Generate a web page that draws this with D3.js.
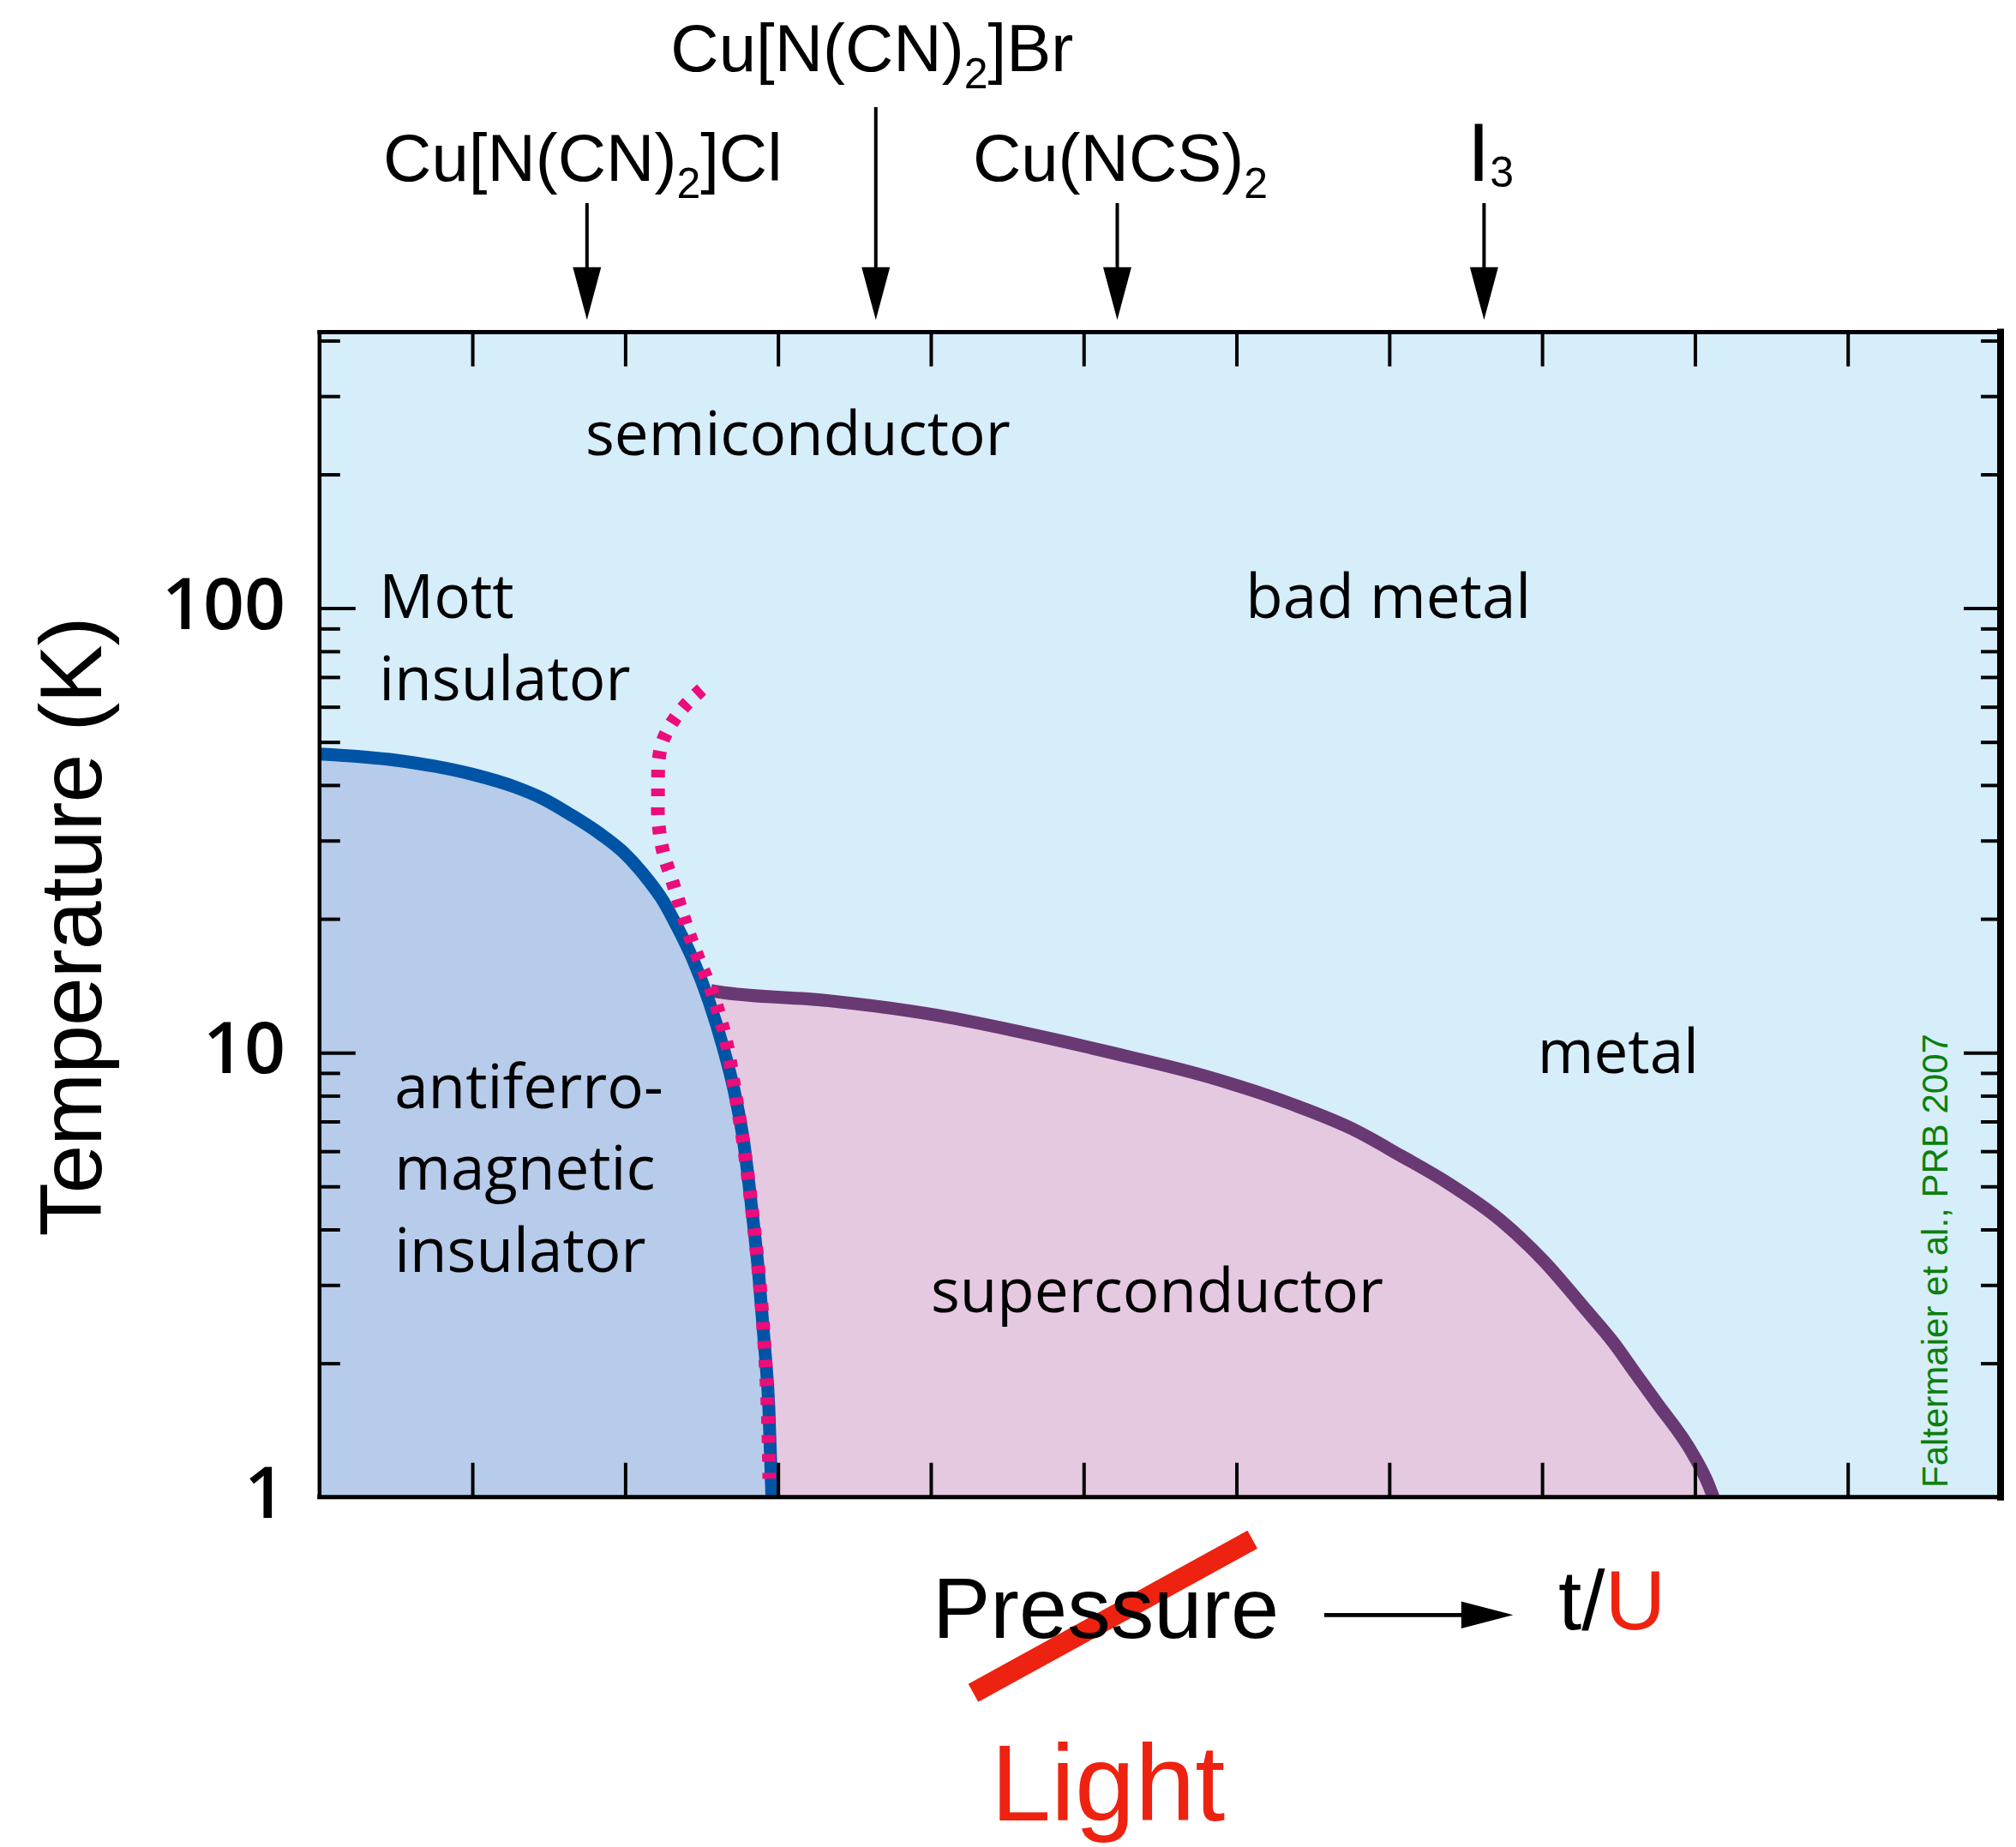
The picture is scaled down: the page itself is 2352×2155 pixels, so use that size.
<!DOCTYPE html>
<html>
<head>
<meta charset="utf-8">
<script src="https://cdn.jsdelivr.net/npm/d3@7"></script>
<style>
  html, body { margin: 0; padding: 0; background: #fff; }
  svg { display: block; }
</style>
</head>
<body>
<script>
// Phase diagram of the kappa-(BEDT-TTF)2X organic conductors:
// temperature (log scale) versus bandwidth-to-interaction ratio t/U.

// ---- data -------------------------------------------------------------
const xTickValues = [1, 2, 3, 4, 5, 6, 7, 8, 9, 10];
const yTickLabels = [1, 10, 100];

// Neel line enclosing the antiferromagnetic insulator (x in t/U units, T in K)
const afmX = [0, 0.5, 1.0, 1.28, 1.46, 1.65, 1.84, 1.99, 2.12, 2.25, 2.34, 2.44, 2.55, 2.64, 2.72, 2.775, 2.83, 2.875, 2.91, 2.94, 2.96];
const afmT = [47, 45.5, 42.3, 39.6, 37.3, 34.2, 31.0, 28.2, 25.2, 21.9, 19.2, 16.3, 13.0, 10.3, 8.0, 6.3, 4.4, 3.14, 2.23, 1.59, 1.0];

// first-order Mott transition line (drawn dashed)
const mottX = [2.50, 2.40, 2.316, 2.248, 2.22, 2.215, 2.215, 2.215, 2.231, 2.259, 2.299, 2.344, 2.388, 2.444, 2.512, 2.568, 2.624, 2.669, 2.719, 2.775, 2.831, 2.876, 2.91, 2.932, 2.943];
const mottT = [65.6, 60.8, 55.9, 50.5, 45.8, 41.5, 37.5, 34.0, 30.3, 27.4, 24.9, 22.2, 19.9, 17.5, 15.3, 13.7, 11.9, 10.3, 8.16, 6.2, 4.4, 3.14, 2.23, 1.59, 1.1];

// superconducting dome
const scX = [2.56, 2.61, 3.32, 4.06, 4.60, 5.18, 5.80, 6.37, 6.76, 7.08, 7.37, 7.73, 8.01, 8.29, 8.47, 8.61, 8.75, 8.98, 9.09, 9.12];
const scT = [13.8, 13.7, 13.1, 12.1, 11.1, 10.0, 8.85, 7.64, 6.73, 5.85, 5.12, 4.19, 3.40, 2.63, 2.22, 1.90, 1.63, 1.26, 1.064, 1.0];

// compounds marked above the diagram, and where they sit on the t/U axis
const compoundMain = ["Cu[N(CN)", "Cu[N(CN)", "Cu(NCS)", "I"];
const compoundSub  = ["2", "2", "2", "3"];
const compoundTail = ["]Cl", "]Br", "", ""];
const compoundAt   = [1.75, 3.64, 5.22, 7.62];

// phase labels and their anchor (t/U, K)
const regionText = [["semiconductor"], ["Mott", "insulator"], ["bad metal"], ["metal"], ["antiferro-", "magnetic", "insulator"], ["superconductor"]];
const regionAtX  = [1.74, 0.39, 6.06, 7.97, 0.49, 4.00];
const regionAtT  = [221, 95, 95, 9.0, 7.5, 2.61];

// ---- layout -----------------------------------------------------------
const W = 2352, H = 2155;
const x = d3.scaleLinear().domain([0, 11]).range([372.8, 2334]);
const y = d3.scaleLog().domain([1, 418]).range([1746.7, 387.5]);

const SANS = "'Liberation Sans', Arial, Helvetica, sans-serif";
const HUMAN = "'Open Sans', 'Noto Sans', sans-serif";

const svg = d3.select("body").append("svg")
  .attr("width", W).attr("height", H).attr("viewBox", `0 0 ${W} ${H}`);
svg.append("rect").attr("width", W).attr("height", H).attr("fill", "#fff");

const x0 = x.range()[0], x1 = x.range()[1];
const yTop = y.range()[1], yBot = y.range()[0];

svg.append("defs").append("clipPath").attr("id", "plot-clip")
  .append("rect").attr("x", x0).attr("y", yTop).attr("width", x1 - x0).attr("height", yBot - yTop);

const plot = svg.append("g").attr("clip-path", "url(#plot-clip)");

plot.append("rect")
  .attr("x", x0).attr("y", yTop).attr("width", x1 - x0).attr("height", yBot - yTop)
  .attr("fill", "#d6edfa");

const afm = d3.zip(afmX, afmT);
const mott = d3.zip(mottX, mottT);
const sc = d3.zip(scX, scT);

const smooth = d3.line()
  .x(d => x(d[0])).y(d => y(d[1]))
  .curve(d3.curveMonotoneX);
const freeCurve = d3.line()
  .x(d => x(d[0])).y(d => y(d[1]))
  .curve(d3.curveCatmullRom.alpha(0.5));

// superconducting region (its left part is covered by the AFM fill)
plot.append("path")
  .attr("d", smooth(sc) + `L${x(2.45)},${y(1)}L${x(2.45)},${y(sc[0][1])}Z`)
  .attr("fill", "#e5c9e1");

// antiferromagnetic insulator region
plot.append("path")
  .attr("d", smooth(afm) + `L${x(0)},${y(1)}Z`)
  .attr("fill", "#b7ccea");

plot.append("path").attr("d", smooth(sc))
  .attr("fill", "none").attr("stroke", "#693973").attr("stroke-width", 15);

plot.append("path").attr("d", smooth(afm))
  .attr("fill", "none").attr("stroke", "#0054a6").attr("stroke-width", 15);

plot.append("path").attr("d", freeCurve(mott))
  .attr("fill", "none").attr("stroke", "#ec0c7a").attr("stroke-width", 16)
  .attr("stroke-dasharray", "9 13");

// phase labels
regionText.forEach((lines, i) => {
  const t = svg.append("text")
    .attr("x", x(regionAtX[i])).attr("y", y(regionAtT[i]))
    .attr("font-family", HUMAN).attr("font-size", 71).attr("fill", "#000");
  lines.forEach((s, k) => {
    t.append("tspan").attr("x", x(regionAtX[i])).attr("dy", k === 0 ? 0 : 95.5).text(s);
  });
});

// credit
svg.append("text")
  .attr("transform", `translate(2272,1736) rotate(-90)`)
  .attr("font-family", SANS).attr("font-size", 42).attr("fill", "#0b800b")
  .text("Faltermaier et al., PRB 2007");

// ---- axes -------------------------------------------------------------
const tickStyle = g => {
  g.select(".domain").remove();
  g.selectAll(".tick line").attr("stroke", "#000").attr("stroke-width", 4);
};

svg.append("g").attr("transform", `translate(0,${yBot})`)
  .call(d3.axisBottom(x).tickValues(xTickValues).tickSize(-40).tickFormat(""))
  .call(tickStyle);
svg.append("g").attr("transform", `translate(0,${yTop})`)
  .call(d3.axisTop(x).tickValues(xTickValues).tickSize(-40).tickFormat(""))
  .call(tickStyle);

const logTicks = y.ticks();
const majorT = logTicks.filter(v => Math.abs(Math.log10(v) - Math.round(Math.log10(v))) < 1e-9 && v > 1);
const minorT = logTicks.filter(v => !majorT.includes(v) && v > 1);

svg.append("g").attr("transform", `translate(${x0},0)`)
  .call(d3.axisLeft(y).tickValues(minorT).tickSize(-24).tickFormat(""))
  .call(tickStyle);
svg.append("g").attr("transform", `translate(${x0},0)`)
  .call(d3.axisLeft(y).tickValues(majorT).tickSize(-42).tickFormat(""))
  .call(tickStyle);
svg.append("g").attr("transform", `translate(${x1},0)`)
  .call(d3.axisRight(y).tickValues(minorT).tickSize(-23).tickFormat(""))
  .call(tickStyle);
svg.append("g").attr("transform", `translate(${x1},0)`)
  .call(d3.axisRight(y).tickValues(majorT).tickSize(-43).tickFormat(""))
  .call(tickStyle);

svg.selectAll(".ylab").data(yTickLabels).join("text")
  .attr("class", "ylab")
  .attr("x", 333).attr("y", d => y(d) + 24)
  .attr("text-anchor", "end")
  .attr("font-family", HUMAN).attr("font-weight", 600).attr("font-size", 84)
  .text(d => d);

// frame
const frame = svg.append("g").attr("stroke", "#000").attr("stroke-linecap", "square");
frame.append("line").attr("x1", x0).attr("x2", x1).attr("y1", yTop).attr("y2", yTop).attr("stroke-width", 5);
frame.append("line").attr("x1", x0).attr("x2", x1).attr("y1", yBot).attr("y2", yBot).attr("stroke-width", 5);
frame.append("line").attr("x1", x0).attr("x2", x0).attr("y1", yTop).attr("y2", yBot).attr("stroke-width", 4.5);
frame.append("line").attr("x1", x1).attr("x2", x1).attr("y1", yTop).attr("y2", yBot).attr("stroke-width", 8);

svg.append("text")
  .attr("transform", `translate(118,1081.5) rotate(-90)`)
  .attr("text-anchor", "middle")
  .attr("font-family", SANS).attr("font-size", 102).attr("letter-spacing", -1)
  .text("Temperature (K)");

// ---- compound markers -------------------------------------------------
const arrowTop = [237, 125, 237, 237];
const labelBase = [210.7, 83.3, 210.7, 210.7];
const labelShift = [-5, -4.5, 3.5, 7.5];
const headBase = 311.7, headTip = 373.3, headHalf = 16.5;

compoundAt.forEach((v, i) => {
  const ax = x(v);
  svg.append("line")
    .attr("x1", ax).attr("x2", ax).attr("y1", arrowTop[i]).attr("y2", headBase + 2)
    .attr("stroke", "#000").attr("stroke-width", 4);
  svg.append("path")
    .attr("d", `M${ax - headHalf},${headBase}L${ax + headHalf},${headBase}L${ax},${headTip}Z`)
    .attr("fill", "#000");

  const isIodide = compoundMain[i] === "I";
  const big = isIodide ? 96 : 78;
  const t = svg.append("text")
    .attr("x", ax + labelShift[i]).attr("y", labelBase[i])
    .attr("text-anchor", "middle")
    .attr("font-family", SANS).attr("font-size", big).attr("fill", "#000");
  t.append("tspan").text(compoundMain[i]);
  t.append("tspan").attr("font-size", 50).attr("dy", isIodide ? 7 : 20).text(compoundSub[i]);
  if (compoundTail[i]) t.append("tspan").attr("font-size", big).attr("dy", -20).text(compoundTail[i]);
});

// ---- control parameter annotation -------------------------------------
const RED = "#ee2210";
svg.append("line")
  .attr("x1", 1135.5).attr("y1", 1975.3).attr("x2", 1461.2).attr("y2", 1796.3)
  .attr("stroke", RED).attr("stroke-width", 24);

svg.append("text")
  .attr("x", 1088).attr("y", 1910.7)
  .attr("font-family", SANS).attr("font-size", 101).attr("fill", "#000")
  .text("Pressure");

svg.append("line")
  .attr("x1", 1545).attr("x2", 1708).attr("y1", 1884.3).attr("y2", 1884.3)
  .attr("stroke", "#000").attr("stroke-width", 4.7);
svg.append("path")
  .attr("d", "M1704.8,1868.5L1765.4,1884.3L1704.8,1900.1Z")
  .attr("fill", "#000");

const tu = svg.append("text")
  .attr("x", 1818).attr("y", 1900.7)
  .attr("font-family", SANS).attr("font-size", 98).attr("fill", "#000");
tu.append("tspan").text("t/");
tu.append("tspan").attr("fill", RED).text("U");

svg.append("text")
  .attr("x", 1156).attr("y", 2124)
  .attr("font-family", SANS).attr("font-size", 126).attr("fill", RED)
  .text("Light");
</script>
</body>
</html>
